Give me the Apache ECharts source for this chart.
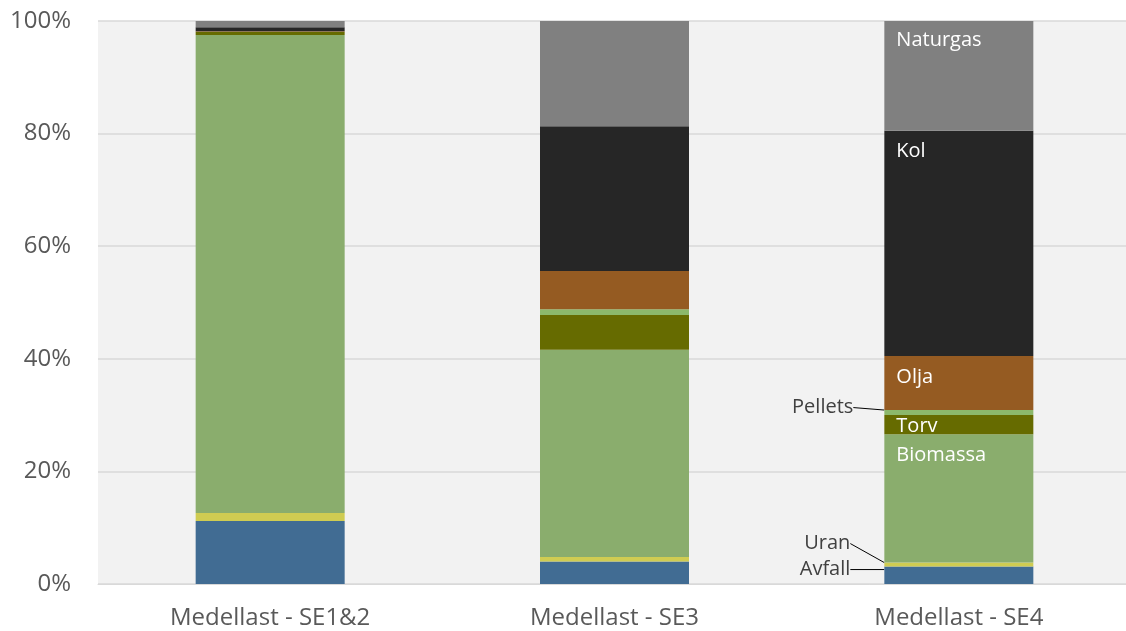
<!DOCTYPE html>
<html>
<head>
<meta charset="utf-8">
<script src="https://cdn.jsdelivr.net/npm/echarts@6/dist/echarts.min.js"></script>
<style>html,body{margin:0;padding:0;background:#fff}#c{width:1126px;height:631px}</style>
</head>
<body>
<div id="c"></div>
<script>
const categories = ['Medellast - SE1&2', 'Medellast - SE3', 'Medellast - SE4'];
const yTicks = ['0%', '20%', '40%', '60%', '80%', '100%'];
const avfall   = [11.2, 4.0, 3.1];
const uran     = [1.4, 0.8, 0.7];
const biomassa = [84.9, 36.8, 22.8];
const torv     = [0.6, 6.2, 3.4];
const pellets  = [0.0, 1.0, 0.9];
const olja     = [0.1, 6.8, 9.6];
const kol      = [0.7, 25.7, 40.0];
const naturgas = [1.1, 18.7, 19.5];

const FONT = '"Open Sans", "Liberation Sans", sans-serif';

function insideLabel(name, arr, dy) {
  return arr.map((v, i) => i === 2 ? {
    value: v,
    label: {show: true, position: [12, dy], verticalAlign: 'middle', align: 'left',
            formatter: name, color: '#ffffff', fontSize: 20, fontFamily: FONT}
  } : v);
}
function outsideLabel(name, arr) {
  return arr.map((v, i) => i === 2 ? {
    value: v,
    label: {show: true, position: 'left', formatter: name, color: '#404040', fontSize: 20, fontFamily: FONT}
  } : v);
}
const outsideOffsets = {Pellets: [-31, -5], Uran: [-34, -21], Avfall: [-34, 1]};

function mk(name, arr, color, data, outside) {
  const s = {
    name: name, type: 'bar', stack: 'a', barWidth: 149,
    itemStyle: {color: color},
    data: data,
    emphasis: {disabled: true}
  };
  if (outside) {
    s.labelLine = {show: true, lineStyle: {color: '#000', width: 1}, length2: 0, minTurnAngle: 0};
    s.labelLayout = function (p) {
      if (p.dataIndex !== 2) return {};
      const off = outsideOffsets[name];
      const cy = name === 'Avfall' ? p.rect.y + 2 : p.rect.y + p.rect.height / 2;
      return {x: p.rect.x + off[0], y: cy + off[1], align: 'right', verticalAlign: 'middle'};
    };
  }
  return s;
}

const chart = echarts.init(document.getElementById('c'), null, {renderer: 'canvas'});
chart.setOption({
  animation: false,
  backgroundColor: '#ffffff',
  grid: {left: 98, top: 21, right: -5, bottom: 47, outerBoundsMode: 'none', containLabel: false,
         show: true, backgroundColor: '#f2f2f2', borderWidth: 0},
  xAxis: {
    type: 'category', data: categories,
    axisLine: {show: true, lineStyle: {color: '#d9d9d9', width: 1}},
    axisTick: {show: false},
    axisLabel: {color: '#595959', fontSize: 24, fontFamily: FONT, margin: 22}
  },
  yAxis: {
    type: 'value', min: 0, max: 100, interval: 20,
    axisLine: {show: false}, axisTick: {show: false},
    splitLine: {lineStyle: {color: '#d9d9d9', width: 1.5}},
    axisLabel: {color: '#595959', fontSize: 24, fontFamily: FONT, margin: 27,
                formatter: v => yTicks[Math.round(v / 20)]}
  },
  series: [
    mk('Avfall', avfall, '#416c93', outsideLabel('Avfall', avfall), true),
    mk('Uran', uran, '#cfcc52', outsideLabel('Uran', uran), true),
    mk('Biomassa', biomassa, '#8aad6d', insideLabel('Biomassa', biomassa, 21)),
    mk('Torv', torv, '#666b00', insideLabel('Torv', torv, 11)),
    mk('Pellets', pellets, '#8cb86b', outsideLabel('Pellets', pellets), true),
    mk('Olja', olja, '#955b22', insideLabel('Olja', olja, 21)),
    mk('Kol', kol, '#262626', insideLabel('Kol', kol, 21)),
    mk('Naturgas', naturgas, '#808080', insideLabel('Naturgas', naturgas, 19))
  ]
});
</script>
</body>
</html>
